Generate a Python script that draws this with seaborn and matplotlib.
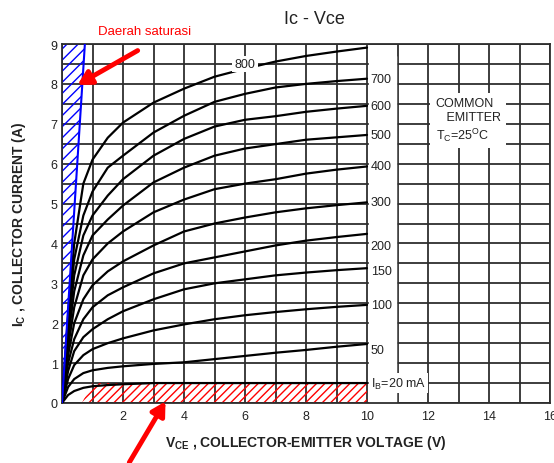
import numpy as np
import pandas as pd
import matplotlib
matplotlib.use('Agg')
import matplotlib.pyplot as plt
import seaborn as sns
from matplotlib.patches import Polygon
from matplotlib.ticker import MultipleLocator

# Ic - Vce family of curves
vce = [0, 0.2, 0.4, 0.7, 1, 1.5, 2, 3, 4, 5, 6, 7, 8, 9, 10]
ib_ma = [20, 50, 100, 150, 200, 300, 400, 500, 600, 700, 800]

ic_20 = [0, 0.2, 0.3, 0.38, 0.42, 0.45, 0.47, 0.5, 0.5, 0.5, 0.5, 0.5, 0.5, 0.5, 0.5]
ic_50 = [0, 0.4, 0.6, 0.75, 0.82, 0.88, 0.92, 0.98, 1.02, 1.1, 1.18, 1.26, 1.33, 1.41, 1.48]
ic_100 = [0, 0.6, 0.95, 1.2, 1.35, 1.5, 1.62, 1.82, 1.97, 2.1, 2.2, 2.28, 2.35, 2.41, 2.46]
ic_150 = [0, 0.8, 1.3, 1.65, 1.85, 2.1, 2.3, 2.6, 2.85, 3.0, 3.1, 3.2, 3.27, 3.33, 3.38]
ic_200 = [0, 1.0, 1.6, 2.1, 2.4, 2.7, 2.9, 3.25, 3.5, 3.65, 3.8, 3.95, 4.07, 4.16, 4.24]
ic_300 = [0, 1.2, 2.0, 2.6, 2.95, 3.3, 3.55, 3.95, 4.3, 4.5, 4.65, 4.78, 4.88, 4.96, 5.03]
ic_400 = [0, 1.4, 2.4, 3.2, 3.6, 4.0, 4.3, 4.78, 5.1, 5.36, 5.5, 5.61, 5.75, 5.85, 5.93]
ic_500 = [0, 1.6, 2.8, 3.7, 4.2, 4.6, 4.95, 5.53, 5.9, 6.2, 6.38, 6.49, 6.6, 6.66, 6.72]
ic_600 = [0, 1.8, 3.2, 4.2, 4.7, 5.2, 5.61, 6.2, 6.62, 6.93, 7.1, 7.19, 7.3, 7.38, 7.45]
ic_700 = [0, 2.0, 3.6, 4.7, 5.3, 5.9, 6.2, 6.78, 7.2, 7.55, 7.75, 7.91, 8.0, 8.07, 8.13]
ic_800 = [0, 2.2, 4.0, 5.5, 6.1, 6.65, 7.03, 7.53, 7.88, 8.18, 8.38, 8.56, 8.7, 8.81, 8.91]

curves = [ic_20, ic_50, ic_100, ic_150, ic_200, ic_300, ic_400, ic_500, ic_600, ic_700, ic_800]
right_labels = ['I$_B$=20 mA', '50', '100', '150', '200', '300', '400', '500', '600', '700']

# saturation boundary and the low-current region
sat_vce = [0, 0.75, 0]
sat_ic = [0, 9, 9]
cut_vce = [0.65, 1.0, 10, 10]
cut_ic = [0, 0.5, 0.5, 0]

rows = []
for ib, ic in zip(ib_ma, curves):
    for v, i in zip(vce, ic):
        rows.append({'vce': v, 'ic': i, 'ib': ib})
df = pd.DataFrame(rows)

sns.set_style('white')
plt.rcParams['font.family'] = ['Liberation Sans', 'DejaVu Sans']
plt.rcParams['mathtext.default'] = 'regular'
plt.rcParams['hatch.linewidth'] = 1.0

fig = plt.figure(figsize=(5.54, 4.64), dpi=100)
ax = fig.add_axes([62 / 554, 60 / 464, 488 / 554, 359 / 464])

sns.lineplot(data=df, x='vce', y='ic', hue='ib', palette={b: 'black' for b in ib_ma},
             estimator=None, sort=False, legend=False, lw=1.6, ax=ax, zorder=3)

ax.set_xlim(0, 16)
ax.set_ylim(0, 9)
ax.set_xticks(range(2, 17, 2))
ax.set_yticks(range(0, 10))
ax.xaxis.set_minor_locator(MultipleLocator(1))
ax.yaxis.set_minor_locator(MultipleLocator(0.5))
ax.set_axisbelow(True)
ax.grid(which='both', color='#2e2e2e', lw=1.3)
ax.tick_params(which='both', length=0, labelsize=9, colors='#222222')
ax.tick_params(axis='y', pad=3)
ax.tick_params(axis='x', pad=5)
for s in ax.spines.values():
    s.set_color('#2e2e2e')
    s.set_linewidth(1.3)

# white column behind the curve labels
ax.axvspan(10.05, 10.95, ymin=0, ymax=8.7 / 9, color='white', zorder=1)

nudge = {'200': -0.3, '50': -0.15, '150': -0.06}
for lab, ic in zip(right_labels, curves[:-1]):
    ax.text(10.12, ic[-1] + nudge.get(lab, 0), lab, fontsize=9, ha='left', va='center',
            color='#222222', zorder=4,
            bbox=dict(facecolor='white', edgecolor='none', pad=1.5 if lab[0] == 'I' else 0.5))
ax.text(6.0, 8.5, '800', fontsize=9, ha='center', va='center', color='#222222', zorder=4,
        bbox=dict(facecolor='white', edgecolor='none', pad=1.5))

ax.text(12.25, 7.1, 'COMMON\n   EMITTER\nT$_C$=25$^O$C', fontsize=9, ha='left', va='center',
        color='#222222', linespacing=1.2, zorder=4,
        bbox=dict(facecolor='white', edgecolor='none', pad=4))

ax.add_patch(Polygon(list(zip(sat_vce, sat_ic)), closed=True, facecolor='none',
                     edgecolor='blue', lw=0, hatch='///', zorder=2))
ax.plot(sat_vce[:2], sat_ic[:2], color='blue', lw=1.5, zorder=3)
ax.add_patch(Polygon(list(zip(cut_vce, cut_ic)), closed=True, facecolor='none',
                     edgecolor='red', lw=0, hatch='////', zorder=2))

arrow = dict(arrowstyle='-|>,head_length=0.8,head_width=0.45', color='red', lw=3.5)
ax.annotate('', xy=(0.43, 7.94), xytext=(2.56, 8.87), arrowprops=arrow, annotation_clip=False)
ax.annotate('', xy=(3.44, 0.1), xytext=(2.16, -1.55), arrowprops=arrow, annotation_clip=False)

fig.text(145 / 554, 1 - 32 / 464, 'Daerah saturasi', color='red', fontsize=9.5,
         ha='center', va='center')
fig.text(314 / 554, 1 - 20 / 464, 'Ic - Vce', fontsize=13, ha='center', va='center',
         color='#222222')

ax.set_xlabel('V$_{CE}$ , COLLECTOR-EMITTER VOLTAGE (V)', fontsize=10, fontweight='bold',
              color='#222222')
ax.set_ylabel('I$_C$ , COLLECTOR CURRENT (A)', fontsize=10, fontweight='bold',
              color='#222222')
ax.xaxis.set_label_coords(0.5, -0.083)
ax.yaxis.set_label_coords(-0.07, 0.5)

fig.savefig('out.png', dpi=100)
